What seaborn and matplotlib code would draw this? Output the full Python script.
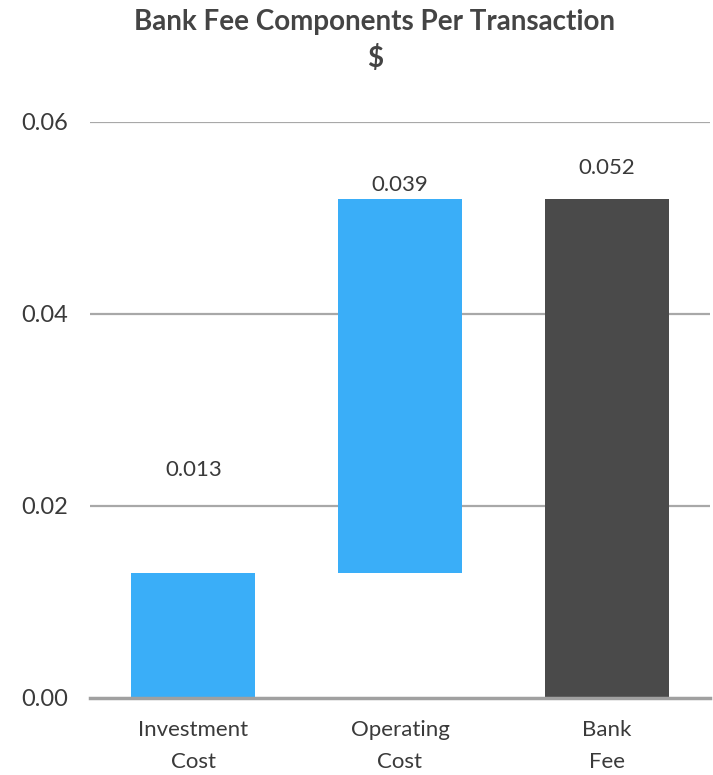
import matplotlib
matplotlib.use("Agg")
import matplotlib.pyplot as plt
import seaborn as sns
import pandas as pd
import numpy as np

# Data
categories = ["Investment\nCost", "Operating\nCost", "Bank\nFee"]
values = [0.013, 0.039, 0.052]
bases = [0.0, 0.013, 0.0]
value_labels = ["0.013", "0.039", "0.052"]
yticks = [0.00, 0.02, 0.04, 0.06]
ytick_labels = ["0.00", "0.02", "0.04", "0.06"]

# Style
bar_colors = ["#3aaef8", "#3aaef8", "#4a4a4a"]
label_offsets_pt = [67, 3, 15]

sns.set_style("white")
plt.rcParams["font.family"] = ["Lato", "DejaVu Sans"]

df = pd.DataFrame({"category": categories, "value": values, "base": bases})

fig = plt.figure(figsize=(7.13, 7.75), dpi=100)
ax = fig.add_axes([90 / 713, 1 - 698 / 775, 620 / 713, (698 - 122) / 775])

sns.barplot(data=df, x="category", y="value", color=bar_colors[0],
            bottom=df["base"].tolist(), width=0.6, ax=ax,
            saturation=1, edgecolor="none", errorbar=None)
for patch, c in zip(ax.patches, bar_colors):
    patch.set_facecolor(c)

ax.set_ylim(0, 0.06)
ax.set_xlim(-0.5, 2.5)
ax.set_yticks(yticks)
ax.set_yticklabels(ytick_labels, fontsize=17, color="#3a3a3a")
ax.set_xticks(range(len(categories)))
ax.set_xticklabels(categories, fontsize=16, color="#3a3a3a", linespacing=1.75)
ax.set_xlabel("")
ax.set_ylabel("")
ax.tick_params(axis="x", length=0, pad=16)
ax.tick_params(axis="y", length=0, pad=16)
ax.set_xticks([-0.5, 0.5, 1.5, 2.5], minor=True)
ax.tick_params(axis="x", which="minor", length=7, width=1.5, color="#a0a0a0")

for y in yticks[1:]:
    ax.axhline(y, color="#a8a8a8", lw=1.6, zorder=0, xmin=0, xmax=1)

for s in ["top", "right", "left"]:
    ax.spines[s].set_visible(False)
ax.spines["bottom"].set_color("#a0a0a0")
ax.spines["bottom"].set_linewidth(2.5)

for i, (v, b, lab, off) in enumerate(zip(values, bases, value_labels, label_offsets_pt)):
    ax.annotate(lab, xy=(i, v + b), xytext=(0, off), textcoords="offset points",
                ha="center", va="bottom", fontsize=16, color="#3a3a3a", annotation_clip=False)

fig.text(375 / 713, 1 - 22 / 775, "Bank Fee Components Per Transaction", ha="center", va="center",
         fontsize=20, fontweight="bold", color="#444444")
fig.text(375 / 713, 1 - 58 / 775, "$", ha="center", va="center",
         fontsize=20, fontweight="bold", color="#444444")

fig.savefig("out.png", dpi=100)
